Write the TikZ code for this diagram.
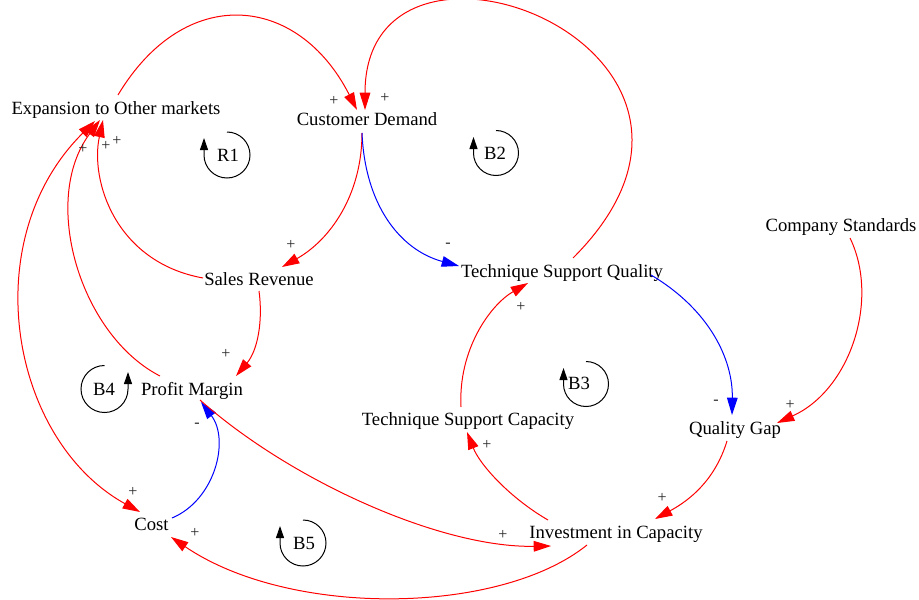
\documentclass[tikz,border=0pt]{standalone}
\usepackage{fontspec}
\setmainfont{Liberation Serif}
\usetikzlibrary{arrows.meta}
\begin{document}
\begin{tikzpicture}[x=0.75pt,y=0.75pt,
  var/.style={anchor=base, inner sep=0pt, font=\fontsize{14}{16}\selectfont},
  sign/.style={inner sep=0pt, font=\fontsize{12}{14}\selectfont, text=black!85},
  looplabel/.style={inner sep=0pt, font=\fontsize{14}{16}\selectfont},
  tip/.tip={Triangle[length=13pt,width=8pt]},
  plink/.style={draw=red, line width=0.75pt, -tip},
  nlink/.style={draw=blue, line width=0.75pt, -tip},
  loopmark/.style={draw=black, line width=0.75pt, -{Triangle[length=9pt,width=6pt]}}]
\useasboundingbox (0,0) rectangle (919,-599);
\fill[white] (0,0) rectangle (919,-599);

% variables
\node[var] (exp)  at (116,-115)   {Expansion to Other markets};
\node[var] (cd)   at (367,-126)   {Customer Demand};
\node[var] (cs)   at (841,-231)   {Company Standards};
\node[var] (sr)   at (259,-285)   {Sales Revenue};
\node[var] (tsq)  at (562,-277)   {Technique Support Quality};
\node[var] (pm)   at (192,-395)   {Profit Margin};
\node[var] (tsc)  at (468,-425)   {Technique Support Capacity};
\node[var] (qg)   at (735,-434)   {Quality Gap};
\node[var] (cost) at (151.5,-530) {Cost};
\node[var] (inv)  at (616,-538)   {Investment in Capacity};

% causal links
\draw[plink] ([shift={(2,20)}]exp.base) .. controls (185,17) and (298,6) .. ([shift={(-10,16)}]cd.base);
\draw[plink] ([shift={(11,19)}]tsq.base) .. controls (783,-48) and (365,110) .. ([shift={(-2,16)}]cd.base);
\draw[plink] ([shift={(-5,-7)}]cd.base) .. controls (362,-195) and (330,-240) .. ([shift={(23,18)}]sr.base);
\draw[nlink] ([shift={(-5,-7)}]cd.base) .. controls (365,-205) and (400,-250) .. ([shift={(-103,11)}]tsq.base);
\draw[plink] ([shift={(-56,7)}]sr.base) .. controls (115,-262) and (90,-180) .. ([shift={(-13,-5)}]exp.base);
\draw[plink] ([shift={(0,-6)}]sr.base) .. controls (263,-320) and (258,-350) .. ([shift={(44,19)}]pm.base);
\draw[plink] ([shift={(-32,19)}]pm.base) .. controls (80,-335) and (40,-200) .. ([shift={(-16,-5)}]exp.base);
\draw[plink, tip-tip] ([shift={(-21,-6)}]exp.base) .. controls (-25,-240) and (10,-440) .. ([shift={(-11.5,18)}]cost.base);
\draw[nlink] ([shift={(20.5,12)}]cost.base) .. controls (215,-500) and (230,-440) .. ([shift={(9,-7)}]pm.base);
\draw[plink] ([shift={(8,-5)}]pm.base) .. controls (290,-480) and (440,-548) .. ([shift={(-65,-8)}]inv.base);
\draw[plink] ([shift={(-29,-7)}]inv.base) .. controls (500,-615) and (290,-618) .. ([shift={(19.5,-7)}]cost.base);
\draw[plink] ([shift={(-68,18)}]inv.base) .. controls (510,-498) and (480,-465) .. ([shift={(-1,-7)}]tsc.base);
\draw[plink] ([shift={(-7,18)}]tsc.base) .. controls (458,-350) and (490,-305) .. ([shift={(-34,-6)}]tsq.base);
\draw[nlink] ([shift={(89,2)}]tsq.base) .. controls (710,-310) and (733,-360) .. ([shift={(-3,19)}]qg.base);
\draw[plink] ([shift={(9,-7)}]cs.base) .. controls (880,-300) and (850,-390) .. ([shift={(42,11)}]qg.base);
\draw[plink] ([shift={(-8,-7)}]qg.base) .. controls (715,-480) and (690,-500) .. ([shift={(39,19)}]inv.base);

% link polarities
\node[sign] (s1)  at (334,-101) {+};
\node[sign] (s2)  at (385,-98)  {+};
\node[sign] (s3)  at (291,-245) {+};
\node[sign] (s4)  at (448,-245) {-};
\node[sign] (s5)  at (83,-149)  {+};
\node[sign] (s6)  at (106,-146) {+};
\node[sign] (s7)  at (117,-141) {+};
\node[sign] (s8)  at (226,-354) {+};
\node[sign] (s9)  at (197,-425) {-};
\node[sign] (s10) at (133,-492) {+};
\node[sign] (s11) at (195,-533) {+};
\node[sign] (s12) at (503,-535) {+};
\node[sign] (s13) at (487,-445) {+};
\node[sign] (s14) at (521,-307) {+};
\node[sign] (s15) at (716,-402) {-};
\node[sign] (s16) at (790,-405) {+};
\node[sign] (s17) at (662,-498) {+};

% loop identifiers
\draw[loopmark] (227,-132) arc[start angle=90, end angle=-180, radius=23] -- ++(0,17);
\node[looplabel] (r1) at (228,-155) {R1};
\draw[loopmark] (496,-130.5) arc[start angle=90, end angle=-180, radius=22.5] -- ++(0,16);
\node[looplabel] (b2) at (495,-153) {B2};
\draw[loopmark] (586,-361.5) arc[start angle=90, end angle=-180, radius=22.5] -- ++(0,16);
\node[looplabel] (b3) at (579,-383) {B3};
\draw[loopmark] (104.5,-365.5) arc[start angle=90, end angle=360, radius=23.5] -- ++(0,17);
\node[looplabel] (b4) at (104,-389) {B4};
\draw[loopmark] (303,-520) arc[start angle=90, end angle=-180, radius=23] -- ++(0,17);
\node[looplabel] (b5) at (304,-543) {B5};
\end{tikzpicture}
\end{document}
